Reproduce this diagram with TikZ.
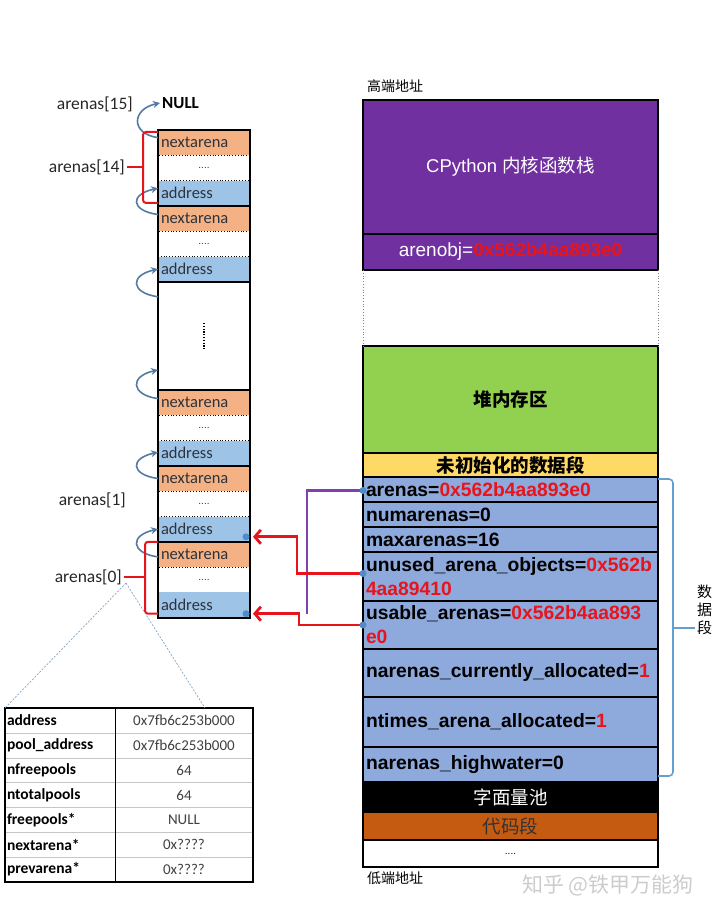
\documentclass[tikz,border=0pt]{standalone}
\usepackage{fontspec}
\setmainfont{Liberation Sans}
\newfontfamily\cjk{Noto Sans CJK SC}
\newfontfamily\calfont{Carlito}
\usetikzlibrary{arrows.meta,positioning}

\definecolor{rowor}{RGB}{244,177,131}
\definecolor{rowbl}{RGB}{157,195,230}
\definecolor{stackpu}{RGB}{112,48,160}
\definecolor{heapgr}{RGB}{146,208,80}
\definecolor{bssye}{RGB}{255,217,102}
\definecolor{databl}{RGB}{142,169,219}
\definecolor{codeor}{RGB}{197,90,17}
\definecolor{ptrbl}{RGB}{84,122,162}
\definecolor{dotbl}{RGB}{80,140,200}
\definecolor{hexred}{RGB}{232,20,28}
\definecolor{linkpu}{RGB}{128,64,180}
\definecolor{brkbl}{RGB}{100,160,205}
\definecolor{txtdk}{RGB}{45,50,60}

\tikzset{
  cell/.style={anchor=north west,inner sep=0pt,outer sep=0pt,minimum width=92pt,minimum height=25.3pt},
  nxrow/.style={cell,fill=rowor,text width=86pt,align=left,text=txtdk,font=\calfont\fontsize{16.5}{18}\selectfont},
  adrow/.style={nxrow,fill=rowbl},
  dtrow/.style={cell,draw=black,dotted,line width=0.8pt,text=txtdk,font=\fontsize{10}{10}\selectfont},
  grpline/.style={line width=1.6pt},
  ptr/.style={draw=ptrbl,line width=1.6pt,-{Stealth[length=7pt,width=7pt]}},
  redbrk/.style={draw=hexred,line width=2pt,rounded corners=3pt},
  lbl/.style={anchor=east,inner sep=2pt,text=black!85,font=\calfont\fontsize{17.5}{18}\selectfont},
  seg/.style={anchor=north west,draw=black,line width=1.8pt,inner sep=0pt,outer sep=0pt,minimum width=295pt},
  datarow/.style={seg,fill=databl,text width=289pt,align=left,font=\bfseries\fontsize{19.3}{24}\selectfont},
  redptr/.style={draw=hexred,line width=2.8pt,-{Straight Barb[length=6pt,width=14pt]}},
  linkln/.style={draw=linkpu,line width=2.4pt},
  kcell/.style={anchor=north west,draw=gray!45,inner sep=0pt,outer sep=0pt,minimum width=110pt,minimum height=24.86pt,text width=106pt,align=left,font=\calfont\bfseries\fontsize{15.5}{17}\selectfont},
  vcell/.style={kcell,minimum width=138pt,text width=138pt,align=center,text=black!75,font=\calfont\fontsize{15}{17}\selectfont},
  zoomln/.style={draw=ptrbl!70,line width=0.7pt,dash pattern=on 2pt off 1.5pt},
  databrk/.style={draw=brkbl,line width=1.6pt,rounded corners=4pt}
}

\begin{document}
\begin{tikzpicture}[x=1pt,y=-1pt]
\useasboundingbox (0,0) rectangle (720,917);

% arena array
\node[nxrow] (nx14) at (158,130) {nextarena};
\node[dtrow] (dt14) at (158,155.3) {....};
\node[adrow] (ad14) at (158,180.6) {address};
\node[nxrow] (nx13) at (158,205.9) {nextarena};
\node[dtrow] (dt13) at (158,231.2) {....};
\node[adrow] (ad13) at (158,256.5) {address};
\node[cell,minimum height=108.2pt] (gap) at (158,281.8) {};
\node[nxrow] (nx2) at (158,390) {nextarena};
\node[dtrow] (dt2) at (158,415.3) {....};
\node[adrow] (ad2) at (158,440.6) {address};
\node[nxrow] (nx1) at (158,465.9) {nextarena};
\node[dtrow] (dt1) at (158,491.2) {....};
\node[adrow] (ad1) at (158,516.5) {address};
\node[nxrow] (nx0) at (158,541.8) {nextarena};
\node[dtrow] (dt0) at (158,567.1) {....};
\node[adrow] (ad0) at (158,592.4) {address};

\draw[grpline] (nx13.north west) -- (nx13.north east);
\draw[grpline] (gap.north west) -- (gap.north east);
\draw[grpline] (nx2.north west) -- (nx2.north east);
\draw[grpline] (nx1.north west) -- (nx1.north east);
\draw[grpline] (nx0.north west) -- (nx0.north east);
\draw[line width=2pt] (nx14.north west) rectangle (ad0.south east);
\draw[line width=1.6pt,dash pattern=on 1.2pt off 1.6pt] ([yshift=13pt]gap.center) -- ([yshift=-14pt]gap.center);

% labels
\node[lbl] (l15) at (135,104) {arenas[15]};
\node[anchor=west,inner sep=2pt,font=\calfont\bfseries\fontsize{17}{18}\selectfont] (null) at (160,103) {NULL};
\node[lbl] (l14) at (127,167) {arenas[14]};
\node[lbl] (l1) at (128,500) {arenas[1]};
\node[lbl] (l0) at (124,577) {arenas[0]};

% next pointers
\draw[ptr] ([yshift=5pt]nx14.west) .. controls +(-28,-4) and +(-28,6) .. (null.west);
\draw[ptr] ([yshift=4pt]nx13.west) .. controls +(-28,-4) and +(-28,6) .. ([yshift=5pt]ad14.west);
\draw[ptr] ([yshift=-15pt]gap.north west) .. controls +(-28,-4) and +(-28,6) .. (ad13.west);
\draw[ptr] ([yshift=4pt]nx2.west) .. controls +(-28,-4) and +(-28,6) .. ([yshift=20pt]gap.south west);
\draw[ptr] (nx1.west) .. controls +(-28,-4) and +(-28,6) .. ([yshift=1pt]ad2.west);
\draw[ptr] ([yshift=-2.5pt]nx0.west) .. controls +(-28,-4) and +(-28,6) .. (ad1.west);

% brackets
\coordinate (b14) at (143,167);
\draw[redbrk] ([yshift=-2pt]nx14.north west) -| (b14) |- ([yshift=3pt]ad14.south west);
\draw[redbrk] (b14) -- (l14.east);
\coordinate (b0) at (145,577);
\draw[redbrk] (nx0.north west) -| (b0) |- ([yshift=4pt]ad0.south west);
\draw[redbrk] (b0) -- (l0.east);

% arena_object table
\node[kcell] (k1) at (5,708) {address};
\node[vcell,right=0pt of k1] (v1) {0x7fb6c253b000};
\node[kcell,below=0pt of k1] (k2) {pool\_address};
\node[vcell,right=0pt of k2] (v2) {0x7fb6c253b000};
\node[kcell,below=0pt of k2] (k3) {nfreepools};
\node[vcell,right=0pt of k3] (v3) {64};
\node[kcell,below=0pt of k3] (k4) {ntotalpools};
\node[vcell,right=0pt of k4] (v4) {64};
\node[kcell,below=0pt of k4] (k5) {freepools*};
\node[vcell,right=0pt of k5] (v5) {NULL};
\node[kcell,below=0pt of k5] (k6) {nextarena*};
\node[vcell,right=0pt of k6] (v6) {0x????};
\node[kcell,below=0pt of k6] (k7) {prevarena*};
\node[vcell,right=0pt of k7] (v7) {0x????};
\draw[line width=1pt] (v1.north west) -- (v7.south west);
\draw[line width=1.8pt] (k1.north west) rectangle (v7.south east);

\coordinate (z0) at (126,583);
\coordinate (zr) at (205,708);
\draw[zoomln] (z0) -- (k1.north west);
\draw[zoomln] (z0) -- (zr);

% process memory
\node[anchor=west,inner sep=0pt,font=\cjk\fontsize{14}{16}\selectfont] (hi) at (367,86) {高端地址};
\node[seg,fill=stackpu,minimum height=134pt,text=white,font=\fontsize{18.5}{20}\selectfont] (stk) at (363,100) {CPython {\cjk 内核函数栈}};
\node[seg,fill=stackpu,minimum height=36pt,text=white,font=\fontsize{19}{22}\selectfont] (aobj) at (363,234) {arenobj=\textcolor{hexred}{\bfseries 0x562b4aa893e0}};
\node[seg,fill=heapgr,minimum height=107pt,font=\cjk\bfseries\fontsize{18.5}{20}\selectfont] (heap) at (363,346) {堆内存区};
\draw[dotted,line width=0.8pt,gray] (aobj.south west) -- (heap.north west);
\draw[dotted,line width=0.8pt,gray] (aobj.south east) -- (heap.north east);
\node[seg,fill=bssye,minimum height=24pt,font=\cjk\bfseries\fontsize{18.5}{20}\selectfont] (bss) at (363,453) {未初始化的数据段};
\node[datarow,minimum height=25pt] (rA) at (363,477) {arenas=\textcolor{hexred}{0x562b4aa893e0}};
\node[datarow,minimum height=25pt] (rN) at (363,502) {numarenas=0};
\node[datarow,minimum height=25pt] (rM) at (363,527) {maxarenas=16};
\node[datarow,minimum height=49pt] (rU) at (363,552) {unused\_arena\_objects=\textcolor{hexred}{0x562b}\\\textcolor{hexred}{4aa89410}};
\node[datarow,minimum height=48pt] (rS) at (363,601) {usable\_arenas=\textcolor{hexred}{0x562b4aa893}\\\textcolor{hexred}{e0}};
\node[datarow,minimum height=48pt] (rC) at (363,649) {narenas\_currently\_allocated=\textcolor{hexred}{1}};
\node[datarow,minimum height=50pt] (rT) at (363,697) {ntimes\_arena\_allocated=\textcolor{hexred}{1}};
\node[datarow,minimum height=35pt] (rH) at (363,747) {narenas\_highwater=0};
\node[seg,fill=black,minimum height=30pt,text=white,font=\cjk\fontsize{18.5}{20}\selectfont] (lit) at (363,782) {字面量池};
\node[seg,fill=codeor,minimum height=28pt,text=black!80,font=\cjk\fontsize{18.5}{20}\selectfont] (code) at (363,812) {代码段};
\node[seg,minimum height=27pt,font=\fontsize{10}{10}\selectfont] (tail) at (363,840) {....};
\node[anchor=west,inner sep=0pt,font=\cjk\fontsize{14}{16}\selectfont] (lo) at (367,878) {低端地址};

% data segment brace
\coordinate (sdm) at (673,628);
\draw[databrk] ([yshift=-2pt]rA.north east) -| (sdm) |- ([yshift=6pt]rH.south east);
\draw[databrk] (sdm) -- ++(22,0);
\node[anchor=west,inner sep=0pt,align=center,font=\cjk\fontsize{15}{18}\selectfont] (sd) at (697,610) {数\\据\\段};

% pointers into the array
\coordinate (pA) at ([yshift=-1pt]rA.west);
\coordinate (pU) at ([yshift=3pt]rU.west);
\coordinate (pS) at (rS.west);
\coordinate (h1) at ([xshift=3pt,yshift=5pt]ad1.south east);
\coordinate (h0) at ([xshift=3pt,yshift=4pt]ad0.south east);
\coordinate (d1) at ([xshift=-4pt,yshift=5pt]ad1.south east);
\coordinate (d0) at ([xshift=-4pt,yshift=4pt]ad0.south east);
\coordinate (jn) at ([xshift=54pt]h0);
\draw[linkln] (pA) -| (jn);
\draw[redptr] (pU) -- ++(-66,0) |- (h1);
\draw[redptr] (pS) -- ++(-64,0) |- (h0);
\fill[dotbl] (pA) circle (3.5pt);
\fill[dotbl] (pU) circle (3.5pt);
\fill[dotbl] (pS) circle (3.5pt);
\fill[dotbl] (d1) circle (3.5pt);
\fill[dotbl] (d0) circle (3.5pt);

\node[anchor=west,inner sep=0pt,text=gray!40,font=\cjk\fontsize{21}{22}\selectfont] (wm) at (522,885) {知乎 @铁甲万能狗};
\end{tikzpicture}
\end{document}
